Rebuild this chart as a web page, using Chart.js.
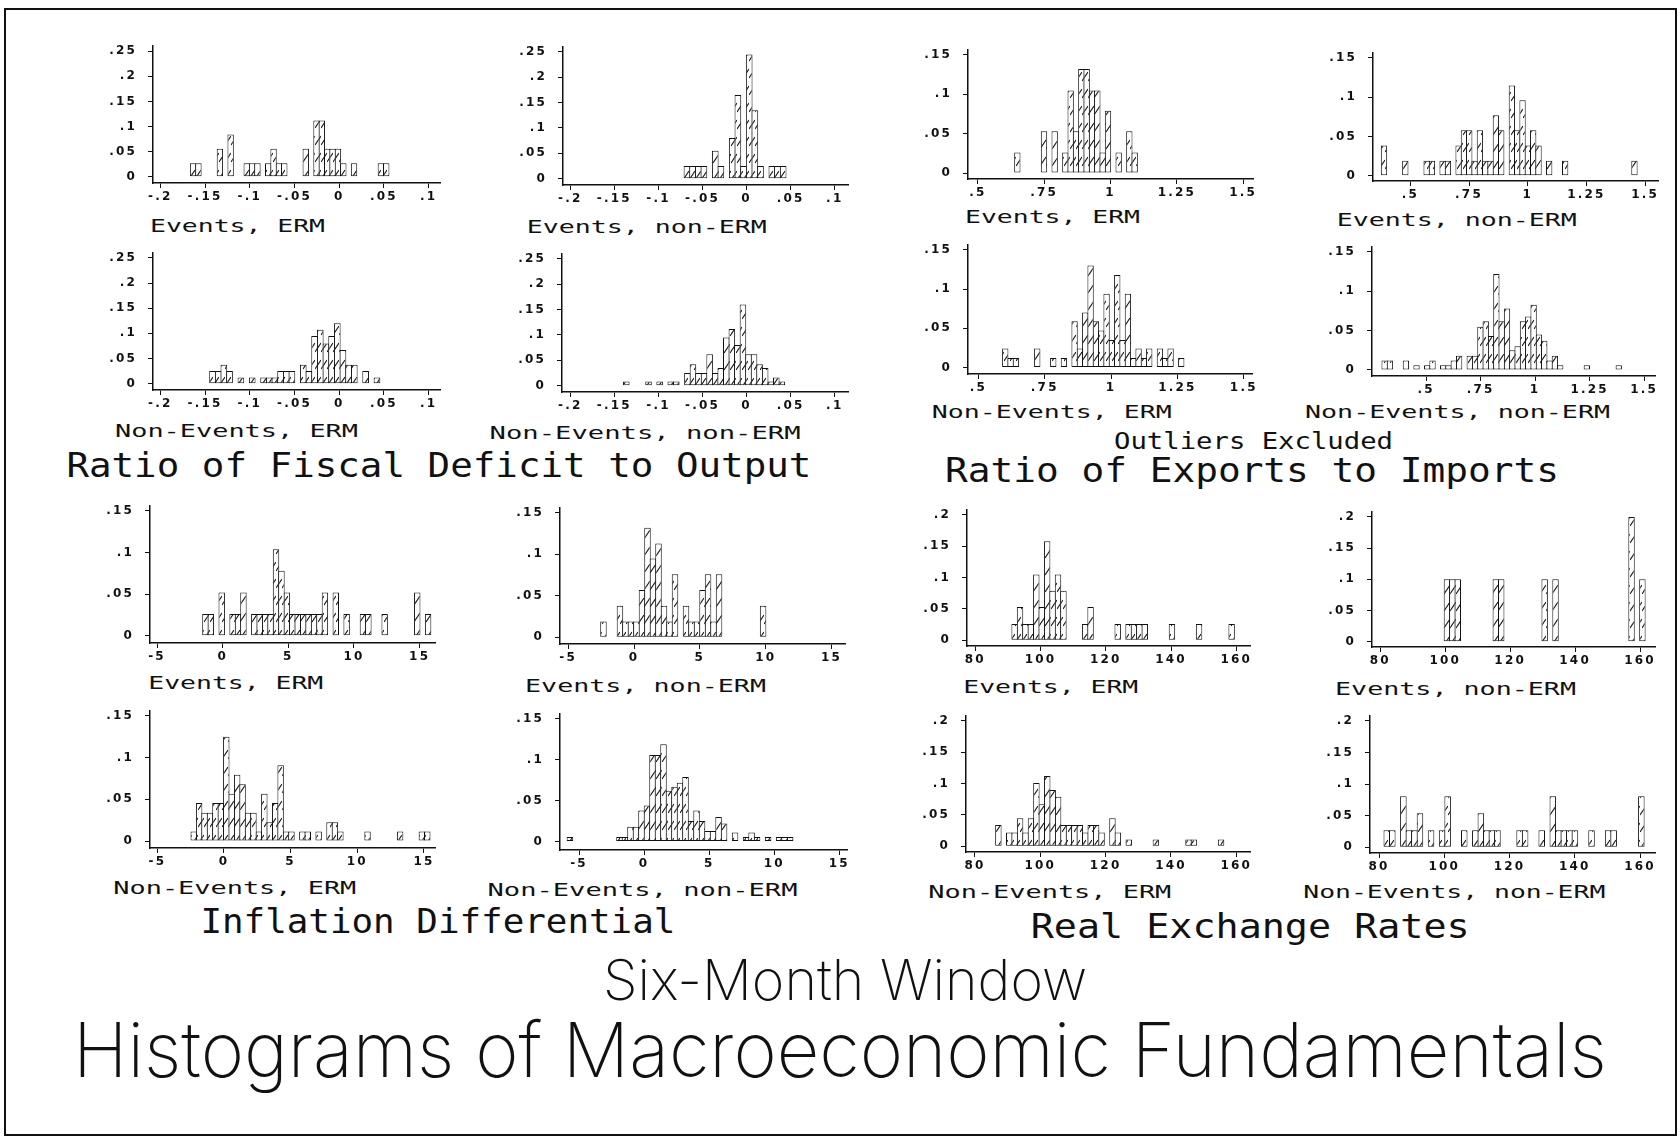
<!DOCTYPE html>
<html>
<head>
<meta charset="utf-8">
<title>Histograms of Macroeconomic Fundamentals</title>
<script src="https://cdn.jsdelivr.net/npm/chart.js@4.4.0/dist/chart.umd.min.js"></script>
<style>
    html, body { margin: 0; padding: 0; background: #fff; }
    #page { position: relative; width: 1680px; height: 1141px; overflow: hidden; background: #fff; }
    #page canvas { position: absolute; }
    #labels { position: absolute; left: 0; top: 0; }
    .mono { font-family: 'DejaVu Sans Mono', 'Liberation Mono', monospace; fill: #111; }
    .thin { font-family: 'Inter', 'DejaVu Sans', sans-serif; font-weight: 200; fill: #111; }
</style>
</head>
<body>
<div id="page">
<svg id="labels" width="1680" height="1141">
    <rect x="5" y="9" width="1671" height="1126" fill="none" stroke="#111" stroke-width="2"/>

    <text class="mono" font-size="17" x="150" y="231.7" textLength="175" lengthAdjust="spacingAndGlyphs">Events, ERM</text>
    <text class="mono" font-size="17" x="115" y="437.3" textLength="243" lengthAdjust="spacingAndGlyphs">Non-Events, ERM</text>
    <text class="mono" font-size="17" x="526.7" y="233.3" textLength="240" lengthAdjust="spacingAndGlyphs">Events, non-ERM</text>
    <text class="mono" font-size="17" x="489.6" y="439.3" textLength="311" lengthAdjust="spacingAndGlyphs">Non-Events, non-ERM</text>
    <text class="mono" font-size="17" x="965" y="223.3" textLength="175" lengthAdjust="spacingAndGlyphs">Events, ERM</text>
    <text class="mono" font-size="17" x="931.7" y="417.7" textLength="240" lengthAdjust="spacingAndGlyphs">Non-Events, ERM</text>
    <text class="mono" font-size="17" x="1336.7" y="226" textLength="240" lengthAdjust="spacingAndGlyphs">Events, non-ERM</text>
    <text class="mono" font-size="17" x="1305" y="418.3" textLength="305" lengthAdjust="spacingAndGlyphs">Non-Events, non-ERM</text>
    <text class="mono" font-size="17" x="148.3" y="689.3" textLength="175" lengthAdjust="spacingAndGlyphs">Events, ERM</text>
    <text class="mono" font-size="17" x="113.3" y="894.3" textLength="243" lengthAdjust="spacingAndGlyphs">Non-Events, ERM</text>
    <text class="mono" font-size="17" x="525" y="691.7" textLength="241" lengthAdjust="spacingAndGlyphs">Events, non-ERM</text>
    <text class="mono" font-size="17" x="487.5" y="896" textLength="310" lengthAdjust="spacingAndGlyphs">Non-Events, non-ERM</text>
    <text class="mono" font-size="17" x="963.3" y="693.3" textLength="175" lengthAdjust="spacingAndGlyphs">Events, ERM</text>
    <text class="mono" font-size="17" x="928.3" y="898.3" textLength="243" lengthAdjust="spacingAndGlyphs">Non-Events, ERM</text>
    <text class="mono" font-size="17" x="1335" y="695" textLength="241" lengthAdjust="spacingAndGlyphs">Events, non-ERM</text>
    <text class="mono" font-size="17" x="1303.3" y="898.3" textLength="302" lengthAdjust="spacingAndGlyphs">Non-Events, non-ERM</text>

    <text class="mono" font-size="34" x="66.4" y="476.8" textLength="745" lengthAdjust="spacingAndGlyphs">Ratio of Fiscal Deficit to Output</text>
    <text class="mono" font-size="23" x="1114" y="448.5" textLength="279" lengthAdjust="spacingAndGlyphs">Outliers Excluded</text>
    <text class="mono" font-size="34" x="945" y="482" textLength="614" lengthAdjust="spacingAndGlyphs">Ratio of Exports to Imports</text>
    <text class="mono" font-size="34" x="200.4" y="933" textLength="475" lengthAdjust="spacingAndGlyphs">Inflation Differential</text>
    <text class="mono" font-size="34" x="1030.7" y="937.5" textLength="439" lengthAdjust="spacingAndGlyphs">Real Exchange Rates</text>

    <text class="thin" font-size="56" x="603" y="999.6" textLength="484" lengthAdjust="spacingAndGlyphs">Six-Month Window</text>
    <text class="thin" font-size="76" x="72.9" y="1076.8" textLength="1534" lengthAdjust="spacingAndGlyphs">Histograms of Macroeconomic Fundamentals</text>
</svg>
</div>
<script>
// Axis ticks
const fiscalTicks = [-0.2, -0.15, -0.1, -0.05, 0, 0.05, 0.1];
const fiscalTickLabels = ['-.2', '-.15', '-.1', '-.05', '0', '.05', '.1'];
const fiscalShareTicks = [0, 0.05, 0.1, 0.15, 0.2, 0.25];
const fiscalShareLabels = ['0', '.05', '.1', '.15', '.2', '.25'];

const exportTicks = [0.5, 0.75, 1, 1.25, 1.5];
const exportTickLabels = ['.5', '.75', '1', '1.25', '1.5'];
const exportShareTicks = [0, 0.05, 0.1, 0.15];
const exportShareLabels = ['0', '.05', '.1', '.15'];

const inflationTicks = [-5, 0, 5, 10, 15];
const inflationTickLabels = ['-5', '0', '5', '10', '15'];
const inflationShareTicks = [0, 0.05, 0.1, 0.15];
const inflationShareLabels = ['0', '.05', '.1', '.15'];

const rerTicks = [80, 100, 120, 140, 160];
const rerTickLabels = ['80', '100', '120', '140', '160'];
const rerShareTicks = [0, 0.05, 0.1, 0.15, 0.2];
const rerShareLabels = ['0', '.05', '.1', '.15', '.2'];

// Histogram bins: [left edge of first bin, bin width], then fraction per bin
const fiscalEventsErmBins = [-0.1664, 0.006];
const fiscalEventsErm = [.027, .027, 0, 0, 0, .056, 0, .084, 0, 0, .027, .027, .027, 0, .027, .056, .027, .027, 0, 0, 0, .056, 0, .112, .112, .056, .056, .056, .027, 0, .027, 0, 0, 0, 0, .027, .027];

const fiscalNonEventsErmBins = [-0.1448, 0.00634];
const fiscalNonEventsErm = [.025, .025, .0375, .025, 0, .0125, 0, .0125, 0, .0125, .0125, .0125, .025, .025, .025, 0, .0375, .025, .095, .107, .08, .095, .12, .067, .0375, .0375, 0, .025, 0, .0125];

const fiscalEventsNonErmBins = [-0.0709, 0.00642];
const fiscalEventsNonErm = [.025, .025, .025, .025, 0, .055, .025, 0, .08, .165, .025, .245, .135, .025, 0, .025, .025, .025];

const fiscalNonEventsNonErmBins = [-0.1396, 0.0063];
const fiscalNonEventsNonErm = [.008, 0, 0, 0, .008, 0, .008, 0, .008, .008, 0, .025, .042, .025, .025, .062, .025, .035, .095, .112, .08, .16, .062, .062, .042, .035, .008, .016, .008];

const exportEventsErmBins = [0.6388, 0.0201];
const exportEventsErm = [.026, 0, 0, 0, 0, .053, 0, .053, 0, .026, .105, .053, .132, .132, .105, .105, .026, .079, 0, .026, 0, .053, .026];

const exportNonEventsErmBins = [0.591, 0.0201];
const exportNonEventsErm = [.024, .012, .012, 0, 0, 0, .024, 0, 0, .012, 0, .012, 0, .059, .024, .07, .13, .059, .047, .094, .035, .118, .035, .094, .012, .024, .012, .024, 0, .024, .012, .024, 0, .012];

const exportEventsNonErmBins = [0.3764, 0.0227];
const exportEventsNonErm = [.0385, 0, 0, 0, .019, 0, 0, 0, .019, .019, 0, .019, .019, 0, .0385, .0577, .0577, .019, .0577, .019, .019, .077, .0577, 0, .115, .0577, .096, .0385, .0577, .0385, 0, .019, 0, 0, .019, 0, 0, 0, 0, 0, 0, 0, 0, 0, 0, 0, 0, .019];

const exportNonEventsNonErmBins = [0.2977, 0.0244];
const exportNonEventsNonErm = [.012, .012, 0, 0, .012, 0, .006, 0, .006, .012, 0, .006, .006, .012, .018, 0, .018, .018, .055, .062, .043, .122, .062, .078, .025, .03, .062, .068, .083, .045, .037, .012, .018, .006, 0, 0, 0, 0, .006, 0, 0, 0, 0, 0, .006];

const inflationEventsErmBins = [-1.523, 0.4137];
const inflationEventsErm = [.026, .026, 0, .052, 0, .026, .026, .052, 0, .026, .026, .026, .026, .104, .078, .052, .026, .026, .026, .026, .026, .026, .052, 0, .052, 0, .026, 0, 0, .026, .026, 0, 0, .026, 0, 0, 0, 0, 0, .052, 0, .026];

const inflationNonEventsErmBins = [-2.475, 0.4075];
const inflationNonEventsErm = [.0114, .0455, .034, .034, .0455, .0455, .125, .0568, .0795, .068, .034, .034, .0114, .0568, .0227, .0455, .091, .0114, .0114, 0, .0114, .0114, 0, .0114, 0, .0227, .0227, .0114, 0, 0, 0, 0, .0114, 0, 0, 0, 0, 0, .0114, 0, 0, 0, .0114, .0114];

const inflationEventsNonErmBins = [-2.53, 0.418];
const inflationEventsNonErm = [.019, 0, 0, .038, .019, .019, .019, .057, .132, .095, .113, .038, .019, .076, 0, .038, .019, .019, .057, .076, .019, .076, 0, 0, 0, 0, 0, 0, 0, .038];

const inflationNonEventsNonErmBins = [-5.91, 0.423];
const inflationNonEventsNonErm = [.0055, 0, 0, 0, 0, 0, 0, 0, 0, .0055, .0055, .018, .018, .038, .044, .106, .106, .119, .062, .067, .072, .079, .025, .038, .025, .013, .013, .03, .022, 0, .011, 0, .0055, .011, .0055, 0, .0055, 0, .0055, .0055, .0055];

const rerEventsErmBins = [91.22, 1.663];
const rerEventsErm = [.026, .053, .026, .026, .105, .053, .158, .079, .105, .079, 0, 0, 0, .026, .053, 0, 0, 0, 0, .026, 0, .026, .026, .026, .026, 0, 0, 0, 0, .026, 0, 0, 0, 0, .026, 0, 0, 0, 0, 0, .026];

const rerNonEventsErmBins = [86.33, 1.663];
const rerNonEventsErm = [.034, 0, .022, .022, .045, .022, .045, .101, .067, .112, .09, .079, .034, .034, .034, .034, .022, .034, .034, .022, 0, .045, .022, 0, .011, 0, 0, 0, 0, .011, 0, 0, 0, 0, 0, .011, .011, 0, 0, 0, 0, .011];

const rerEventsNonErmBins = [99.69, 1.672];
const rerEventsNonErm = [.1, .1, .1, 0, 0, 0, 0, 0, 0, .1, .1, 0, 0, 0, 0, 0, 0, 0, .1, 0, .1, 0, 0, 0, 0, 0, 0, 0, 0, 0, 0, 0, 0, 0, .2, 0, .1];

const rerNonEventsNonErmBins = [81.53, 1.696];
const rerNonEventsNonErm = [.027, .027, 0, .081, .027, .027, .054, 0, .027, 0, .027, .081, 0, 0, .027, 0, .027, .054, .027, .027, .027, 0, 0, 0, .027, .027, 0, 0, .027, 0, .081, .027, .027, .027, .027, 0, 0, .027, 0, 0, .027, .027, 0, 0, 0, 0, .081];

// Panel placement: plot box [left, top, right, bottom] in page pixels and axis ranges
const fiscalAxes = { xTicks: fiscalTicks, xLabels: fiscalTickLabels, yTicks: fiscalShareTicks, yLabels: fiscalShareLabels };
const exportAxes = { xTicks: exportTicks, xLabels: exportTickLabels, yTicks: exportShareTicks, yLabels: exportShareLabels };
const inflationAxes = { xTicks: inflationTicks, xLabels: inflationTickLabels, yTicks: inflationShareTicks, yLabels: inflationShareLabels };
const rerAxes = { xTicks: rerTicks, xLabels: rerTickLabels, yTicks: rerShareTicks, yLabels: rerShareLabels };

const panels = [
    { axes: fiscalAxes, bins: fiscalEventsErmBins, heights: fiscalEventsErm, box: [153, 38, 440, 183], x: [-0.2082, 0.1127], y: [-0.0124, 0.2599] },
    { axes: fiscalAxes, bins: fiscalNonEventsErmBins, heights: fiscalNonEventsErm, box: [153, 245, 440, 390], x: [-0.2082, 0.1127], y: [-0.0126, 0.2594] },
    { axes: fiscalAxes, bins: fiscalEventsNonErmBins, heights: fiscalEventsNonErm, box: [563, 39, 848, 185], x: [-0.2083, 0.115], y: [-0.0125, 0.2593] },
    { axes: fiscalAxes, bins: fiscalNonEventsNonErmBins, heights: fiscalNonEventsNonErm, box: [562, 246, 848, 392], x: [-0.2094, 0.115], y: [-0.0125, 0.2593] },
    { axes: exportAxes, bins: exportEventsErmBins, heights: exportEventsErm, box: [968, 42, 1253, 179], x: [0.4629, 1.537], y: [-0.0075, 0.156] },
    { axes: exportAxes, bins: exportNonEventsErmBins, heights: exportNonEventsErm, box: [968, 237, 1252, 374], x: [0.4606, 1.531], y: [-0.0084, 0.156] },
    { axes: exportAxes, bins: exportEventsNonErmBins, heights: exportEventsNonErm, box: [1373, 45, 1658, 181], x: [0.3409, 1.555], y: [-0.0068, 0.156] },
    { axes: exportAxes, bins: exportNonEventsNonErmBins, heights: exportNonEventsNonErm, box: [1372, 239, 1655, 376], x: [0.252, 1.5497], y: [-0.0077, 0.156] },
    { axes: inflationAxes, bins: inflationEventsErmBins, heights: inflationEventsErm, box: [150, 498, 435, 643], x: [-5.537, 16.17], y: [-0.0088, 0.1557] },
    { axes: inflationAxes, bins: inflationNonEventsErmBins, heights: inflationNonEventsErm, box: [150, 703, 435, 848], x: [-5.55, 15.83], y: [-0.0083, 0.1557] },
    { axes: inflationAxes, bins: inflationEventsNonErmBins, heights: inflationEventsNonErm, box: [560, 500, 845, 644], x: [-5.62, 16.02], y: [-0.0083, 0.1557] },
    { axes: inflationAxes, bins: inflationNonEventsNonErmBins, heights: inflationNonEventsNonErm, box: [560, 706, 847, 850], x: [-6.46, 15.59], y: [-0.0104, 0.1558] },
    { axes: rerAxes, bins: rerEventsErmBins, heights: rerEventsErm, box: [967, 502, 1250, 646], x: [77.46, 164.2], y: [-0.009, 0.2075] },
    { axes: rerAxes, bins: rerNonEventsErmBins, heights: rerNonEventsErm, box: [966, 708, 1250, 852], x: [77.25, 164.2], y: [-0.009, 0.2075] },
    { axes: rerAxes, bins: rerEventsNonErmBins, heights: rerEventsNonErm, box: [1372, 504, 1655, 647], x: [77.45, 164.6], y: [-0.0084, 0.2075] },
    { axes: rerAxes, bins: rerNonEventsNonErmBins, heights: rerNonEventsNonErm, box: [1370, 708, 1655, 853], x: [77.24, 164.58], y: [-0.009, 0.2075] }
];

const YW = 60, XH = 30, PT = 10, PR = 26;
const tickFont = { family: "'DejaVu Sans', 'Liberation Sans', sans-serif", size: 12, weight: 'bold' };

// Wide plotter-style spacing for tick labels
const spacingPlugin = {
    id: 'spacing',
    beforeLayout(chart) { chart.ctx.letterSpacing = '2.2px'; },
    beforeDraw(chart) { chart.ctx.letterSpacing = '2.2px'; }
};

// Diagonal shading used inside the bars
function makeHatch() {
    const c = document.createElement('canvas');
    c.width = 6;
    c.height = 17;
    const g = c.getContext('2d');
    g.fillStyle = '#fff';
    g.fillRect(0, 0, 6, 17);
    g.strokeStyle = '#111';
    g.lineWidth = 1.1;
    g.beginPath();
    g.moveTo(0, 15);
    g.lineTo(6, 6);
    g.stroke();
    return g.createPattern(c, 'repeat');
}
const hatch = makeHatch();

function binPoints(bins, heights) {
    const start = bins[0], width = bins[1];
    const points = [];
    heights.forEach((h, i) => {
        if (h > 0) points.push({ x: start + (i + 0.5) * width, y: h });
    });
    return points;
}

function axisOptions(range, ticks, labels, isX) {
    return {
        type: 'linear',
        min: range[0],
        max: range[1],
        bounds: 'data',
        offset: false,
        grid: { display: true, drawOnChartArea: false, drawTicks: true, tickLength: 5, color: '#111', lineWidth: 1, offset: false },
        border: { display: true, color: '#111', width: 1.5 },
        ticks: {
            color: '#111',
            font: tickFont,
            padding: isX ? 2 : 11,
            autoSkip: false,
            maxRotation: 0,
            minRotation: 0,
            callback: (value, index) => labels[index]
        },
        afterBuildTicks: axis => { axis.ticks = ticks.map(v => ({ value: v })); },
        afterFit: axis => {
            if (isX) axis.height = XH; else axis.width = YW;
        }
    };
}

function drawPanel(p) {
    const [left, top, right, bottom] = p.box;
    const w = right - left, h = bottom - top;
    const canvas = document.createElement('canvas');
    canvas.width = w + YW + PR;
    canvas.height = h + PT + XH;
    canvas.style.left = (left - YW) + 'px';
    canvas.style.top = (top - PT) + 'px';
    document.getElementById('page').appendChild(canvas);

    // widen bars by one pixel so neighbouring outlines share a single line
    const binPx = p.bins[1] * w / (p.x[1] - p.x[0]);

    new Chart(canvas, {
        type: 'bar',
        data: {
            datasets: [{
                data: binPoints(p.bins, p.heights),
                backgroundColor: hatch,
                borderColor: '#111',
                borderWidth: 1,
                borderSkipped: false,
                inflateAmount: 0,
                barPercentage: (binPx + 1) / binPx,
                categoryPercentage: 1
            }]
        },
        options: {
            responsive: false,
            animation: false,
            devicePixelRatio: 1,
            events: [],
            layout: { padding: { left: 0, top: PT, right: PR, bottom: 0 } },
            plugins: { legend: { display: false }, tooltip: { enabled: false } },
            scales: {
                x: axisOptions(p.x, p.axes.xTicks, p.axes.xLabels, true),
                y: axisOptions(p.y, p.axes.yTicks, p.axes.yLabels, false)
            }
        },
        plugins: [spacingPlugin]
    });
}

panels.forEach(drawPanel);
</script>
</body>
</html>
